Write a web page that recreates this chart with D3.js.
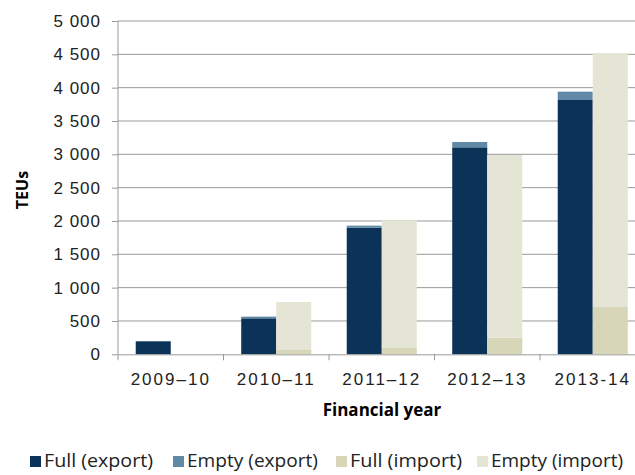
<!DOCTYPE html>
<html>
<head>
<meta charset="utf-8">
<script src="https://cdn.jsdelivr.net/npm/d3@7"></script>
<style>
  body { margin: 0; background: #fff; }
  svg { display: block; font-family: "Open Sans", sans-serif; }
</style>
</head>
<body>
<div id="chart"></div>
<script>
// data
const years = ["2009–10", "2010–11", "2011–12", "2012–13", "2013-14"];
const fullExport  = [195, 540, 1900, 3105, 3815];
const emptyExport = [0, 25, 30, 80, 125];
const fullImport  = [0, 65, 95, 250, 710];
const emptyImport = [0, 720, 1915, 2740, 3810];
const yTicks = [0, 500, 1000, 1500, 2000, 2500, 3000, 3500, 4000, 4500, 5000];

const legendNames = ["Full (export)", "Empty (export)", "Full (import)", "Empty (import)"];
const colors = ["#0b3358", "#5f89a7", "#d8d6b9", "#e5e5d6"];

const width = 635, height = 475;
const margin = { top: 21, left: 118 };
const innerH = 333.3;
const step = 105.5;

const svg = d3.select("#chart").append("svg")
    .attr("width", width)
    .attr("height", height);

const g = svg.append("g").attr("transform", `translate(${margin.left},${margin.top})`);

const x = d3.scaleBand()
    .domain(years)
    .range([0, step * years.length])
    .paddingInner(0.336)
    .paddingOuter(0.168);

const xSub = d3.scaleBand()
    .domain(["export", "import"])
    .range([0, x.bandwidth()]);

const y = d3.scaleLinear().domain([0, 5000]).range([innerH, 0]);

// grid
g.append("g").selectAll("line")
    .data(yTicks.slice(1))
    .join("line")
    .attr("x1", 0).attr("x2", width)
    .attr("y1", d => y(d)).attr("y2", d => y(d))
    .attr("stroke", "#9a9a9a");

// stacked columns
const rows = years.map((yr, i) => ({
    year: yr,
    export: [fullExport[i], emptyExport[i]],
    import: [fullImport[i], emptyImport[i]]
}));

const segs = [];
rows.forEach(r => {
    ["export", "import"].forEach((side, si) => {
        let base = 0;
        r[side].forEach((v, k) => {
            segs.push({ year: r.year, side, y0: base, y1: base + v, c: colors[si * 2 + k] });
            base += v;
        });
    });
});

g.append("g").selectAll("rect")
    .data(segs.filter(d => d.y1 > d.y0))
    .join("rect")
    .attr("x", d => x(d.year) + xSub(d.side))
    .attr("width", xSub.bandwidth())
    .attr("y", d => y(d.y1))
    .attr("height", d => y(d.y0) - y(d.y1))
    .attr("fill", d => d.c);

// y axis
const yAxis = d3.axisLeft(y)
    .tickValues(yTicks)
    .tickSize(6)
    .tickPadding(11)
    .tickFormat(d => d3.format(",")(d).replace(",", " "));

const ya = g.append("g").call(yAxis);
ya.select(".domain").attr("stroke", "#9a9a9a").attr("d", `M0,0V${innerH}`);
ya.selectAll(".tick line").attr("stroke", "#9a9a9a");
ya.selectAll(".tick text")
    .attr("fill", "#222")
    .style("font-size", "17px")
    .style("letter-spacing", "1px");

// x axis
const xa = g.append("g").attr("transform", `translate(0,${innerH})`)
    .call(d3.axisBottom(x).tickSize(0).tickPadding(19));
xa.select(".domain").attr("stroke", "#9a9a9a");
xa.selectAll(".tick text")
    .attr("fill", "#222")
    .style("font-size", "17px")
    .style("letter-spacing", "2px");

xa.selectAll(".bound")
    .data(d3.range(years.length + 1))
    .join("line")
    .attr("x1", i => i * step).attr("x2", i => i * step)
    .attr("y1", 0).attr("y2", 6)
    .attr("stroke", "#9a9a9a");

// axis titles
svg.append("text")
    .attr("transform", "translate(28,190) rotate(-90)")
    .attr("text-anchor", "middle")
    .style("font-weight", "bold")
    .style("font-size", "16px")
    .text("TEUs");

svg.append("text")
    .attr("x", 382)
    .attr("y", 416)
    .attr("text-anchor", "middle")
    .style("font-weight", "bold")
    .style("font-size", "17px")
    .text("Financial year");

// legend
const legendX = [30, 173, 336, 477];
const textW = [109, 131, 112, 132];
const lg = svg.append("g").selectAll("g")
    .data(legendNames)
    .join("g")
    .attr("transform", (d, i) => `translate(${legendX[i]},467)`);

lg.append("rect")
    .attr("y", -11)
    .attr("width", 11)
    .attr("height", 11)
    .attr("fill", (d, i) => colors[i]);

lg.append("text")
    .attr("x", 14)
    .attr("textLength", (d, i) => textW[i])
    .attr("lengthAdjust", "spacingAndGlyphs")
    .style("font-size", "19px")
    .attr("fill", "#222")
    .text(d => d);
</script>
</body>
</html>
